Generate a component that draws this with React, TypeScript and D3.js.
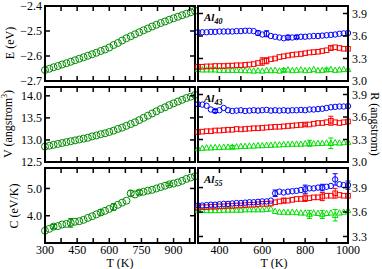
import * as d3 from 'd3';

// temperatures (K), one point every 20 K
const temps = [300, 320, 340, 360, 380, 400, 420, 440, 460, 480, 500, 520, 540, 560, 580, 600, 620, 640,
  660, 680, 700, 720, 740, 760, 780, 800, 820, 840, 860, 880, 900, 920, 940, 960, 980, 1000];

// left column
const energy = [-2.656, -2.651, -2.645, -2.640, -2.634, -2.629, -2.623, -2.617, -2.611, -2.605, -2.599, -2.593,
  -2.587, -2.580, -2.574, -2.566, -2.556, -2.548, -2.538, -2.529, -2.521, -2.513, -2.505, -2.497, -2.490, -2.482,
  -2.475, -2.468, -2.462, -2.455, -2.449, -2.443, -2.437, -2.431, -2.425, -2.419];
const volume = [12.85, 12.87, 12.89, 12.91, 12.93, 12.95, 12.97, 12.99, 13.01, 13.03, 13.05, 13.08, 13.10, 13.13,
  13.15, 13.18, 13.21, 13.25, 13.28, 13.32, 13.36, 13.40, 13.45, 13.50, 13.55, 13.60, 13.65, 13.70, 13.74, 13.79,
  13.83, 13.87, 13.91, 13.95, 13.98, 14.02];
const heatCap = [3.45, 3.52, 3.60, 3.62, 3.68, 3.70, 3.74, 3.78, 3.80, 3.85, 3.92, 3.98, 4.05, 4.12, 4.18, 4.25,
  4.32, 4.40, 4.48, 4.55, 4.82, 4.78, 4.85, 4.88, 4.92, 4.95, 5.00, 5.05, 5.10, 5.15, 5.18, 5.22, 5.28, 5.35,
  5.40, 5.45];
const heatCapErr = [[340, 0.08], [420, 0.16], [560, 0.1], [620, 0.12], [700, 0.1], [740, 0.08], [880, 0.05]];

// right column: Al40
const al40Blue = [3.65, 3.65, 3.65, 3.655, 3.655, 3.66, 3.66, 3.66, 3.66, 3.665, 3.665, 3.67, 3.67, 3.665, 3.64,
  3.62, 3.63, 3.60, 3.59, 3.58, 3.57, 3.58, 3.58, 3.585, 3.59, 3.59, 3.595, 3.60, 3.60, 3.605, 3.61, 3.615, 3.62,
  3.63, 3.635, 3.64];
const al40BlueErr = [[580, 0.03], [620, 0.04], [720, 0.03], [760, 0.02]];
const al40Red = [3.19, 3.19, 3.195, 3.195, 3.20, 3.20, 3.20, 3.205, 3.205, 3.21, 3.21, 3.215, 3.22, 3.225, 3.24,
  3.26, 3.27, 3.29, 3.30, 3.32, 3.33, 3.34, 3.35, 3.355, 3.36, 3.37, 3.38, 3.385, 3.39, 3.40, 3.41, 3.44, 3.45,
  3.44, 3.43, 3.43];
const al40RedErr = [[600, 0.05], [620, 0.04], [920, 0.03]];
const al40Green = [3.155, 3.15, 3.15, 3.15, 3.15, 3.145, 3.145, 3.145, 3.145, 3.145, 3.145, 3.14, 3.14, 3.135,
  3.14, 3.135, 3.145, 3.14, 3.145, 3.135, 3.145, 3.15, 3.14, 3.145, 3.15, 3.14, 3.145, 3.155, 3.14, 3.145, 3.15,
  3.155, 3.145, 3.15, 3.155, 3.155];
const al40GreenErr = [[700, 0.02], [900, 0.02]];

// Al43
const al43Blue = [3.77, 3.765, 3.75, 3.70, 3.68, 3.69, 3.72, 3.69, 3.68, 3.685, 3.69, 3.68, 3.685, 3.69, 3.685,
  3.69, 3.695, 3.685, 3.69, 3.685, 3.69, 3.685, 3.69, 3.69, 3.695, 3.69, 3.70, 3.70, 3.705, 3.71, 3.72, 3.73,
  3.735, 3.74, 3.74, 3.745];
const al43BlueErr = [[380, 0.02]];
const al43Red = [3.40, 3.405, 3.41, 3.41, 3.42, 3.42, 3.425, 3.43, 3.43, 3.44, 3.435, 3.44, 3.445, 3.45, 3.45,
  3.455, 3.46, 3.465, 3.47, 3.47, 3.475, 3.48, 3.485, 3.49, 3.495, 3.50, 3.50, 3.51, 3.52, 3.52, 3.53, 3.55,
  3.53, 3.52, 3.53, 3.54];
const al43RedErr = [[920, 0.06], [800, 0.02]];
const al43Green = [3.18, 3.185, 3.19, 3.19, 3.195, 3.195, 3.20, 3.20, 3.20, 3.205, 3.21, 3.21, 3.215, 3.215,
  3.22, 3.22, 3.225, 3.225, 3.23, 3.23, 3.235, 3.235, 3.24, 3.24, 3.24, 3.245, 3.25, 3.245, 3.25, 3.25, 3.255,
  3.25, 3.26, 3.255, 3.26, 3.265];
const al43GreenErr = [[460, 0.02], [820, 0.04], [920, 0.07]];

// Al55
const al55Blue = [3.68, 3.68, 3.685, 3.69, 3.69, 3.695, 3.70, 3.70, 3.705, 3.71, 3.71, 3.715, 3.72, 3.72, 3.725,
  3.73, 3.73, 3.74, 3.83, 3.85, 3.84, 3.85, 3.855, 3.86, 3.87, 3.88, 3.89, 3.89, 3.90, 3.90, 3.91, 3.92, 4.00,
  3.94, 3.93, 3.93];
const al55BlueErr = [[660, 0.04], [800, 0.05], [880, 0.04], [940, 0.07], [1000, 0.05]];
const al55Red = [3.655, 3.66, 3.66, 3.665, 3.665, 3.67, 3.67, 3.675, 3.675, 3.68, 3.68, 3.685, 3.69, 3.69, 3.695,
  3.70, 3.70, 3.705, 3.72, 3.73, 3.74, 3.74, 3.75, 3.76, 3.76, 3.77, 3.77, 3.78, 3.78, 3.79, 3.80, 3.80, 3.83,
  3.81, 3.80, 3.80];
const al55RedErr = [[700, 0.03], [800, 0.04], [880, 0.05], [940, 0.06]];
const al55Green = [3.62, 3.62, 3.62, 3.62, 3.62, 3.62, 3.625, 3.625, 3.625, 3.625, 3.625, 3.63, 3.63, 3.63,
  3.63, 3.63, 3.635, 3.64, 3.61, 3.60, 3.60, 3.595, 3.60, 3.595, 3.59, 3.59, 3.57, 3.59, 3.585, 3.57, 3.585,
  3.59, 3.56, 3.59, 3.60, 3.62];
const al55GreenErr = [[820, 0.05], [880, 0.05], [940, 0.07]];

const leftTempTicks = [300, 375, 450, 525, 600, 675, 750, 825, 900, 975];
const leftTempLabels = [300, 450, 600, 750, 900];
const rightTempTicks = [300, 400, 500, 600, 700, 800, 900, 1000];
const rightTempLabels = [400, 600, 800, 1000];

const FONT = '"Liberation Serif", "DejaVu Serif", serif';
const GREEN_DARK = '#008b00';
const BLUE = '#0000ff';
const RED = '#ff0000';
const GREEN = '#00e000';

const rows = [[6, 81], [87, 162], [168, 243]];
const leftX = [45, 195];
const rightX = [198, 348];

const xLeft = d3.scaleLinear().domain([300, 1000]).range(leftX);
const xRight = d3.scaleLinear().domain([300, 1000]).range(rightX);

const errMap = (list) => new Map(list.map(([t, e]) => [t, e]));

function Markers({ values, errs, x, y, color, shape, size }) {
  const em = errMap(errs || []);
  return (
    <g>
      {temps.map((t, i) => {
        const e = em.get(t);
        if (!e) return null;
        const cx = x(t);
        return (
          <g key={'e' + t} stroke={color} strokeWidth={1}>
            <line x1={cx} x2={cx} y1={y(values[i] - e)} y2={y(values[i] + e)} />
            <line x1={cx - 2.5} x2={cx + 2.5} y1={y(values[i] - e)} y2={y(values[i] - e)} />
            <line x1={cx - 2.5} x2={cx + 2.5} y1={y(values[i] + e)} y2={y(values[i] + e)} />
          </g>
        );
      })}
      {temps.map((t, i) => {
        const cx = x(t);
        const cy = y(values[i]);
        if (shape === 'square') {
          return <rect key={t} x={cx - size} y={cy - size} width={size * 2} height={size * 2}
            fill="none" stroke={color} strokeWidth={1} />;
        }
        if (shape === 'triangle') {
          const p = `${cx},${cy - size * 1.1} ${cx - size},${cy + size * 0.8} ${cx + size},${cy + size * 0.8}`;
          return <polygon key={t} points={p} fill="none" stroke={color} strokeWidth={1} />;
        }
        return <circle key={t} cx={cx} cy={cy} r={size} fill="none" stroke={color} strokeWidth={1} />;
      })}
    </g>
  );
}

function Frame({ x, y, row, xTicks, yTicks, xLabels, yLabels, side, fmt }) {
  const [x0, x1] = x.range();
  const [y0, y1] = row;
  const tl = 5;
  return (
    <g>
      <g stroke="#000" strokeWidth={1.5}>
        {xTicks.map((t) => (
          <g key={'x' + t}>
            <line x1={x(t)} x2={x(t)} y1={y1} y2={y1 - tl} />
            <line x1={x(t)} x2={x(t)} y1={y0} y2={y0 + tl} />
          </g>
        ))}
        {yTicks.map((v) => (
          <g key={'y' + v}>
            <line x1={x0} x2={x0 + tl} y1={y(v)} y2={y(v)} />
            <line x1={x1} x2={x1 - tl} y1={y(v)} y2={y(v)} />
          </g>
        ))}
      </g>
      <rect x={x0} y={y0} width={x1 - x0} height={y1 - y0} fill="none" stroke="#000" strokeWidth={2} />
      {yLabels.map((v) => (
        <text key={'yl' + v} x={side === 'left' ? x0 - 3 : x1 + 4} y={y(v)} dy="0.35em"
          textAnchor={side === 'left' ? 'end' : 'start'} fontSize={12} fontFamily={FONT}>
          {fmt(v)}
        </text>
      ))}
      {xLabels && xLabels.map((t) => (
        <text key={'xl' + t} x={x(t)} y={y1 + 11} textAnchor="middle" fontSize={12} fontFamily={FONT}>
          {t}
        </text>
      ))}
    </g>
  );
}

function AlTag({ x, y, n }) {
  return (
    <text x={x} y={y} fontFamily={FONT} fontWeight="bold" fontStyle="italic" fontSize={11}>
      Al<tspan fontSize={8} dy={3}>{n}</tspan>
    </text>
  );
}

export default function App() {
  const f1 = d3.format('.1f');
  const yE = d3.scaleLinear().domain([-2.7, -2.4]).range([rows[0][1], rows[0][0]]);
  const yV = d3.scaleLinear().domain([12.5, 14.2]).range([rows[1][1], rows[1][0]]);
  const yC = d3.scaleLinear().domain([3.0, 5.75]).range([rows[2][1], rows[2][0]]);
  const yR1 = d3.scaleLinear().domain([3.0, 4.0]).range([rows[0][1], rows[0][0]]);
  const yR2 = d3.scaleLinear().domain([3.0, 4.0]).range([rows[1][1], rows[1][0]]);
  const yR3 = d3.scaleLinear().domain([3.22, 4.14]).range([rows[2][1], rows[2][0]]);

  const rightSets = [
    { y: yR1, row: rows[0], tag: '40', b: [al40Blue, al40BlueErr], r: [al40Red, al40RedErr], g: [al40Green, al40GreenErr], ticks: [3.3, 3.6, 3.9], labels: [3.0, 3.3, 3.6, 3.9] },
    { y: yR2, row: rows[1], tag: '43', b: [al43Blue, al43BlueErr], r: [al43Red, al43RedErr], g: [al43Green, al43GreenErr], ticks: [3.3, 3.6, 3.9], labels: [3.0, 3.3, 3.6, 3.9] },
    { y: yR3, row: rows[2], tag: '55', b: [al55Blue, al55BlueErr], r: [al55Red, al55RedErr], g: [al55Green, al55GreenErr], ticks: [3.3, 3.6, 3.9], labels: [3.3, 3.6, 3.9] },
  ];

  return (
    <svg width={382} height={269} style={{ position: 'absolute', left: 0, top: 0, background: '#fff' }}>
      {/* left column */}
      <Markers values={energy} x={xLeft} y={yE} color={GREEN_DARK} shape="circle" size={3.5} />
      <Frame x={xLeft} y={yE} row={rows[0]} xTicks={leftTempTicks} yTicks={[-2.6, -2.5]}
        yLabels={[-2.7, -2.6, -2.5, -2.4]} side="left" fmt={f1} />
      <Markers values={volume} x={xLeft} y={yV} color={GREEN_DARK} shape="circle" size={3.5} />
      <Frame x={xLeft} y={yV} row={rows[1]} xTicks={leftTempTicks} yTicks={[13.0, 13.5, 14.0]}
        yLabels={[12.5, 13.0, 13.5, 14.0]} side="left" fmt={f1} />
      <Markers values={heatCap} errs={heatCapErr} x={xLeft} y={yC} color={GREEN_DARK} shape="circle" size={3.5} />
      <Frame x={xLeft} y={yC} row={rows[2]} xTicks={leftTempTicks} yTicks={[4.0, 5.0]}
        yLabels={[4.0, 5.0]} xLabels={leftTempLabels} side="left" fmt={f1} />

      {/* right column */}
      {rightSets.map((s, i) => (
        <g key={s.tag}>
          <Markers values={s.g[0]} errs={s.g[1]} x={xRight} y={s.y} color={GREEN} shape="triangle" size={2.8} />
          <Markers values={s.r[0]} errs={s.r[1]} x={xRight} y={s.y} color={RED} shape="square" size={2.3} />
          <Markers values={s.b[0]} errs={s.b[1]} x={xRight} y={s.y} color={BLUE} shape="circle" size={2.7} />
          <Frame x={xRight} y={s.y} row={s.row} xTicks={rightTempTicks} yTicks={s.ticks}
            yLabels={s.labels} xLabels={i === 2 ? rightTempLabels : null} side="right" fmt={f1} />
          <AlTag x={204} y={s.row[0] + 15} n={s.tag} />
        </g>
      ))}

      {/* axis titles */}
      <text transform="translate(10,43) rotate(-90)" textAnchor="middle" dy="0.35em" fontSize={12} fontFamily={FONT}>E (eV)</text>
      <text transform="translate(8,124) rotate(-90)" textAnchor="middle" dy="0.35em" fontSize={12} fontFamily={FONT}>
        V (angstrom<tspan fontSize={8} dy={-5}>3</tspan><tspan dy={5}>)</tspan>
      </text>
      <text transform="translate(14,206) rotate(-90)" textAnchor="middle" dy="0.35em" fontSize={12} fontFamily={FONT}>C (eV/K)</text>
      <text transform="translate(375,124) rotate(90)" textAnchor="middle" dy="0.35em" fontSize={12} fontFamily={FONT}>R (angstrom)</text>
      <text x={120} y={267} textAnchor="middle" fontSize={12} fontFamily={FONT}>T (K)</text>
      <text x={274} y={267} textAnchor="middle" fontSize={12} fontFamily={FONT}>T (K)</text>
    </svg>
  );
}
